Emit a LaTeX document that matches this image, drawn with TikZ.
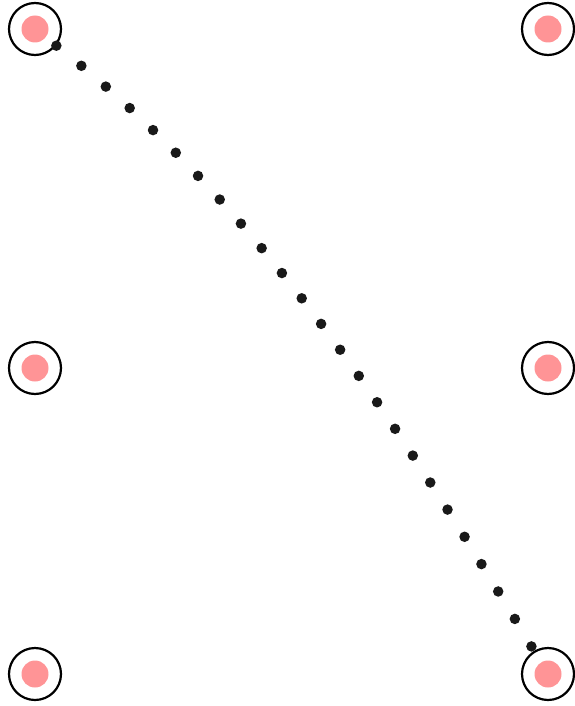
\documentclass[tikz,border=0pt]{standalone}
\usepackage{tikz}
\usetikzlibrary{positioning}

\definecolor{dotpink}{RGB}{255,148,150}
\definecolor{inkblack}{RGB}{25,25,25}

\begin{document}
\begin{tikzpicture}[
    x=1pt, y=-1pt,
    port/.style={circle, draw=black, line width=2.2pt, minimum size=52pt, inner sep=0pt,
        path picture={\fill[dotpink] (path picture bounding box.center) circle (13.5pt);}},
    dotline/.style={draw=inkblack, line width=10.5pt, line cap=round, dash pattern=on 0pt off 32.1pt}
]
    \useasboundingbox (0,0) rectangle (574,706);

    \node[port] (topleft) at (35,29) {};
    \node[port] (midleft) at (35,368) {};
    \node[port] (botleft) at (35,674) {};
    \node[port] (topright) at (548,29) {};
    \node[port] (midright) at (548,368) {};
    \node[port] (botright) at (548,674) {};

    \draw[dotline] (topleft) to[out=-38, in=121, looseness=0.86] (botright);
\end{tikzpicture}
\end{document}
